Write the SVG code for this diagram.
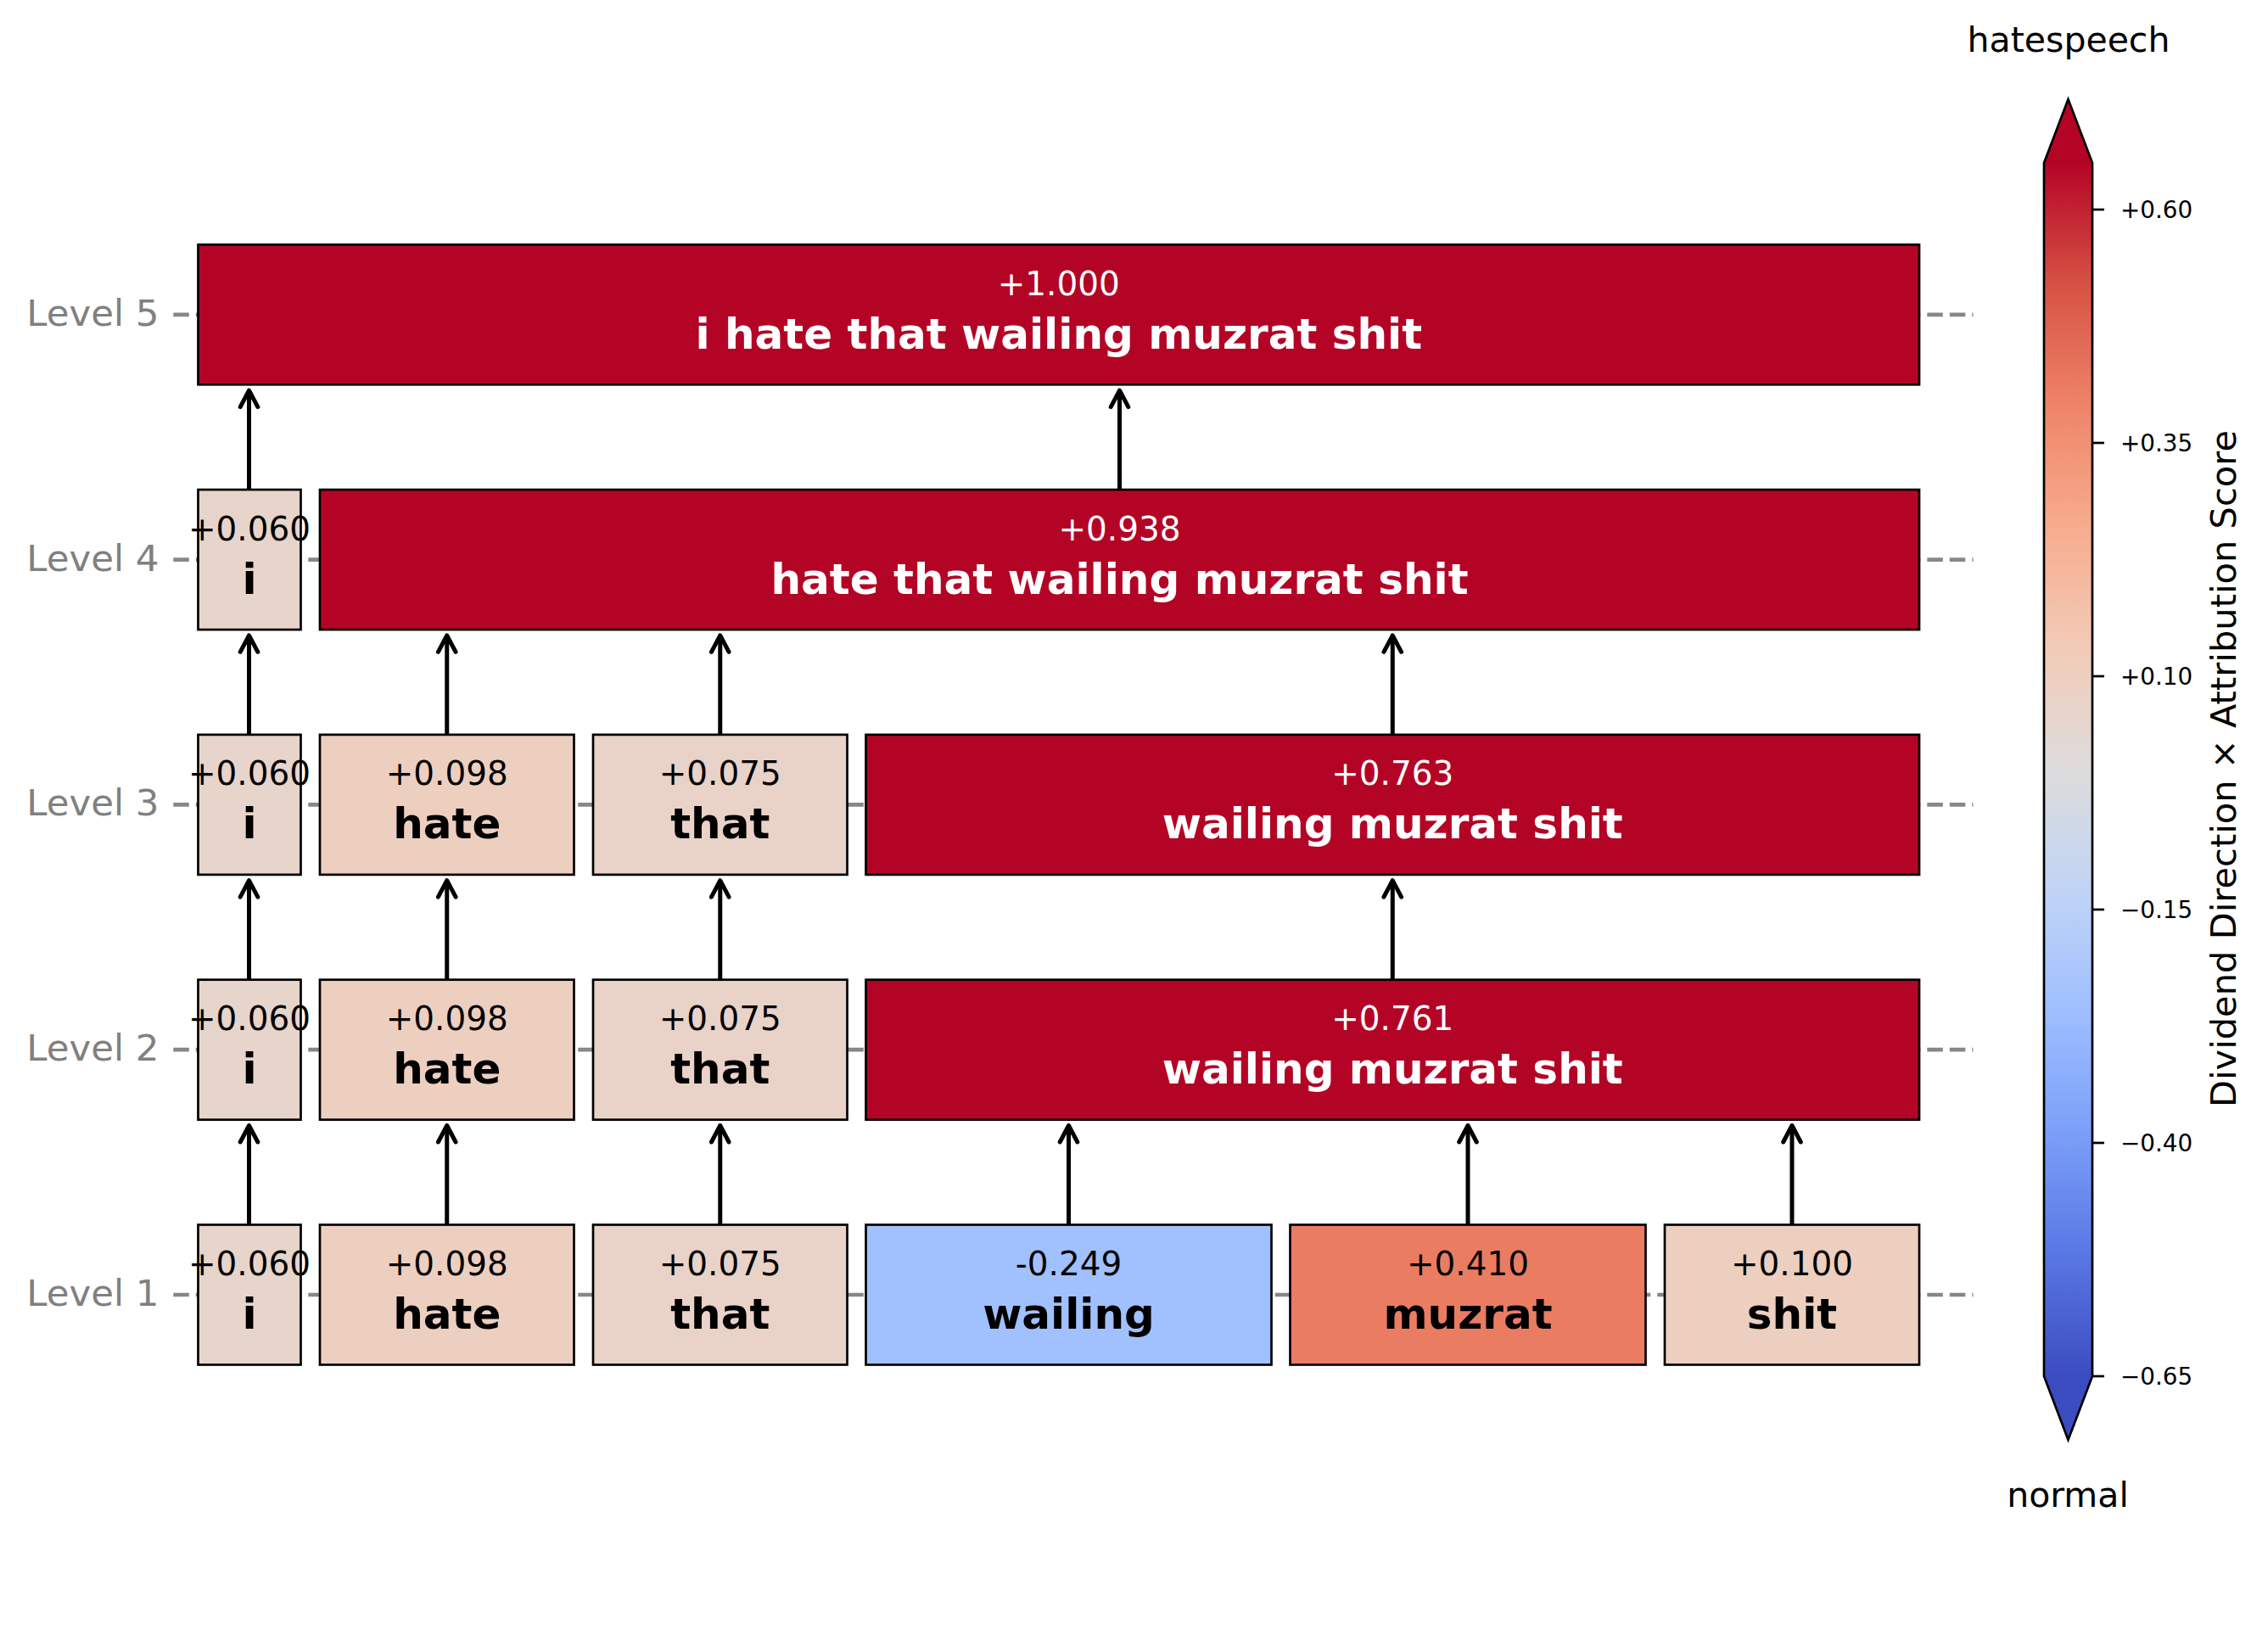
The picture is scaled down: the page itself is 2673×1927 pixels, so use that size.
<svg xmlns="http://www.w3.org/2000/svg" width="2673" height="1927" viewBox="0 0 2673 1927">
<style>
text{font-family:"DejaVu Sans","Liberation Sans",sans-serif}
.lvl{font-size:43.5px;fill:#808080;text-anchor:end}
.val{font-size:38.9px;text-anchor:middle;fill:#000}
.word{font-size:50px;font-weight:bold;text-anchor:middle;fill:#000}
.w{fill:#fff}
.box{stroke:#000;stroke-width:2.7}
.grid{stroke:#878787;stroke-width:4.7;stroke-dasharray:18.5 8;fill:none}
.arr{stroke:#000;stroke-width:5;fill:none;marker-end:url(#ah)}
.tk{stroke:#000;stroke-width:2.7}
.tl{font-size:27.8px;fill:#000}
.cap{font-size:41px;fill:#000;text-anchor:middle}
</style>
<defs>
<marker id="ah" markerUnits="userSpaceOnUse" markerWidth="40" markerHeight="40" refX="0" refY="0" orient="auto" overflow="visible">
<path d="M-19.5,-10.3 L0,0 L-19.5,10.3" fill="none" stroke="#000" stroke-width="5" stroke-linejoin="round" stroke-linecap="round"/>
</marker>
<linearGradient id="cw" gradientUnits="userSpaceOnUse" x1="0" y1="192" x2="0" y2="1622">
<stop offset="0" stop-color="#b40426"/>
<stop offset="0.1" stop-color="#d65244"/>
<stop offset="0.2" stop-color="#ee8468"/>
<stop offset="0.3" stop-color="#f7ac8e"/>
<stop offset="0.4" stop-color="#f2cbb7"/>
<stop offset="0.5" stop-color="#dddcdc"/>
<stop offset="0.6" stop-color="#c0d4f5"/>
<stop offset="0.7" stop-color="#9ebeff"/>
<stop offset="0.8" stop-color="#7b9ff9"/>
<stop offset="0.9" stop-color="#5977e3"/>
<stop offset="1" stop-color="#3b4cc0"/>
</linearGradient>
</defs>
<rect width="2673" height="1927" fill="#fff"/>

<g id="axis">
<line class="grid" x1="204.3" y1="370.8" x2="2325.5" y2="370.8"/>
<line class="grid" x1="204.3" y1="659.6" x2="2325.5" y2="659.6"/>
<line class="grid" x1="204.3" y1="948.4" x2="2325.5" y2="948.4"/>
<line class="grid" x1="204.3" y1="1237.2" x2="2325.5" y2="1237.2"/>
<line class="grid" x1="204.3" y1="1526" x2="2325.5" y2="1526"/>
<text class="lvl" x="187.5" y="383.8">Level 5</text>
<text class="lvl" x="187.5" y="672.6">Level 4</text>
<text class="lvl" x="187.5" y="961.4">Level 3</text>
<text class="lvl" x="187.5" y="1250.2">Level 2</text>
<text class="lvl" x="187.5" y="1539">Level 1</text>
</g>

<g id="connectors">
<line class="arr" x1="293.5" y1="1443.5" x2="293.5" y2="1326.5"/>
<line class="arr" x1="526.75" y1="1443.5" x2="526.75" y2="1326.5"/>
<line class="arr" x1="848.75" y1="1443.5" x2="848.75" y2="1326.5"/>
<line class="arr" x1="1259.5" y1="1443.5" x2="1259.5" y2="1326.5"/>
<line class="arr" x1="1730" y1="1443.5" x2="1730" y2="1326.5"/>
<line class="arr" x1="2112" y1="1443.5" x2="2112" y2="1326.5"/>
<line class="arr" x1="293.5" y1="1154.7" x2="293.5" y2="1037.7"/>
<line class="arr" x1="526.75" y1="1154.7" x2="526.75" y2="1037.7"/>
<line class="arr" x1="848.75" y1="1154.7" x2="848.75" y2="1037.7"/>
<line class="arr" x1="1641.25" y1="1154.7" x2="1641.25" y2="1037.7"/>
<line class="arr" x1="293.5" y1="865.9" x2="293.5" y2="748.9"/>
<line class="arr" x1="526.75" y1="865.9" x2="526.75" y2="748.9"/>
<line class="arr" x1="848.75" y1="865.9" x2="848.75" y2="748.9"/>
<line class="arr" x1="1641.25" y1="865.9" x2="1641.25" y2="748.9"/>
<line class="arr" x1="293.5" y1="577.1" x2="293.5" y2="460.1"/>
<line class="arr" x1="1319.5" y1="577.1" x2="1319.5" y2="460.1"/>
</g>

<!-- Level 1 -->
<g id="L1-i"><rect class="box" x="233.5" y="1443.5" width="121" height="165" fill="#e7d4cb"/><text class="val" x="294" y="1503">+0.060</text><text class="word" x="294" y="1566">i</text></g>
<g id="L1-hate"><rect class="box" x="377" y="1443.5" width="299.5" height="165" fill="#edcfc0"/><text class="val" x="526.75" y="1503">+0.098</text><text class="word" x="526.75" y="1566">hate</text></g>
<g id="L1-that"><rect class="box" x="699" y="1443.5" width="299.5" height="165" fill="#e9d2c7"/><text class="val" x="848.75" y="1503">+0.075</text><text class="word" x="848.75" y="1566">that</text></g>
<g id="L1-wailing"><rect class="box" x="1020.5" y="1443.5" width="478" height="165" fill="#a1c0fe"/><text class="val" x="1259.5" y="1503">-0.249</text><text class="word" x="1259.5" y="1566">wailing</text></g>
<g id="L1-muzrat"><rect class="box" x="1520.5" y="1443.5" width="419" height="165" fill="#ea7c62"/><text class="val" x="1730" y="1503">+0.410</text><text class="word" x="1730" y="1566">muzrat</text></g>
<g id="L1-shit"><rect class="box" x="1962" y="1443.5" width="300" height="165" fill="#edcfbf"/><text class="val" x="2112" y="1503">+0.100</text><text class="word" x="2112" y="1566">shit</text></g>

<!-- Level 2 -->
<g id="L2-i"><rect class="box" x="233.5" y="1154.7" width="121" height="165" fill="#e7d4cb"/><text class="val" x="294" y="1214.2">+0.060</text><text class="word" x="294" y="1277.2">i</text></g>
<g id="L2-hate"><rect class="box" x="377" y="1154.7" width="299.5" height="165" fill="#edcfc0"/><text class="val" x="526.75" y="1214.2">+0.098</text><text class="word" x="526.75" y="1277.2">hate</text></g>
<g id="L2-that"><rect class="box" x="699" y="1154.7" width="299.5" height="165" fill="#e9d2c7"/><text class="val" x="848.75" y="1214.2">+0.075</text><text class="word" x="848.75" y="1277.2">that</text></g>
<g id="L2-wms"><rect class="box" x="1020.5" y="1154.7" width="1241.5" height="165" fill="#b40426"/><text class="val w" x="1641.25" y="1214.2">+0.761</text><text class="word w" x="1641.25" y="1277.2">wailing muzrat shit</text></g>

<!-- Level 3 -->
<g id="L3-i"><rect class="box" x="233.5" y="865.9" width="121" height="165" fill="#e7d4cb"/><text class="val" x="294" y="925.4">+0.060</text><text class="word" x="294" y="988.4">i</text></g>
<g id="L3-hate"><rect class="box" x="377" y="865.9" width="299.5" height="165" fill="#edcfc0"/><text class="val" x="526.75" y="925.4">+0.098</text><text class="word" x="526.75" y="988.4">hate</text></g>
<g id="L3-that"><rect class="box" x="699" y="865.9" width="299.5" height="165" fill="#e9d2c7"/><text class="val" x="848.75" y="925.4">+0.075</text><text class="word" x="848.75" y="988.4">that</text></g>
<g id="L3-wms"><rect class="box" x="1020.5" y="865.9" width="1241.5" height="165" fill="#b40426"/><text class="val w" x="1641.25" y="925.4">+0.763</text><text class="word w" x="1641.25" y="988.4">wailing muzrat shit</text></g>

<!-- Level 4 -->
<g id="L4-i"><rect class="box" x="233.5" y="577.1" width="121" height="165" fill="#e7d4cb"/><text class="val" x="294" y="636.6">+0.060</text><text class="word" x="294" y="699.6">i</text></g>
<g id="L4-htwms"><rect class="box" x="377" y="577.1" width="1885" height="165" fill="#b40426"/><text class="val w" x="1319.5" y="636.6">+0.938</text><text class="word w" x="1319.5" y="699.6">hate that wailing muzrat shit</text></g>

<!-- Level 5 -->
<g id="L5-all"><rect class="box" x="233.5" y="288.3" width="2028.5" height="165" fill="#b40426"/><text class="val w" x="1247.75" y="347.8">+1.000</text><text class="word w" x="1247.75" y="410.8">i hate that wailing muzrat shit</text></g>

<g id="colorbar">
<rect x="2409" y="192" width="57" height="1430" fill="url(#cw)"/>
<path d="M2409,192 L2437.5,117 L2466,192 Z" fill="#b40426"/>
<path d="M2409,1622 L2437.5,1697 L2466,1622 Z" fill="#3b4cc0"/>
<path d="M2409,192 L2437.5,117 L2466,192 L2466,1622 L2437.5,1697 L2409,1622 Z" fill="none" stroke="#000" stroke-width="2.7" stroke-linejoin="miter"/>
<line class="tk" x1="2466" y1="247" x2="2480" y2="247"/>
<line class="tk" x1="2466" y1="522" x2="2480" y2="522"/>
<line class="tk" x1="2466" y1="797" x2="2480" y2="797"/>
<line class="tk" x1="2466" y1="1072" x2="2480" y2="1072"/>
<line class="tk" x1="2466" y1="1347" x2="2480" y2="1347"/>
<line class="tk" x1="2466" y1="1622" x2="2480" y2="1622"/>
<text class="tl" x="2499" y="257">+0.60</text>
<text class="tl" x="2499" y="532">+0.35</text>
<text class="tl" x="2499" y="807">+0.10</text>
<text class="tl" x="2499" y="1082">−0.15</text>
<text class="tl" x="2499" y="1357">−0.40</text>
<text class="tl" x="2499" y="1632">−0.65</text>
<text class="cap" transform="translate(2635,906) rotate(-90)" style="font-size:41.6px">Dividend Direction × Attribution Score</text>
<text class="cap" x="2438" y="61">hatespeech</text>
<text class="cap" x="2437" y="1776">normal</text>
</g>
</svg>
